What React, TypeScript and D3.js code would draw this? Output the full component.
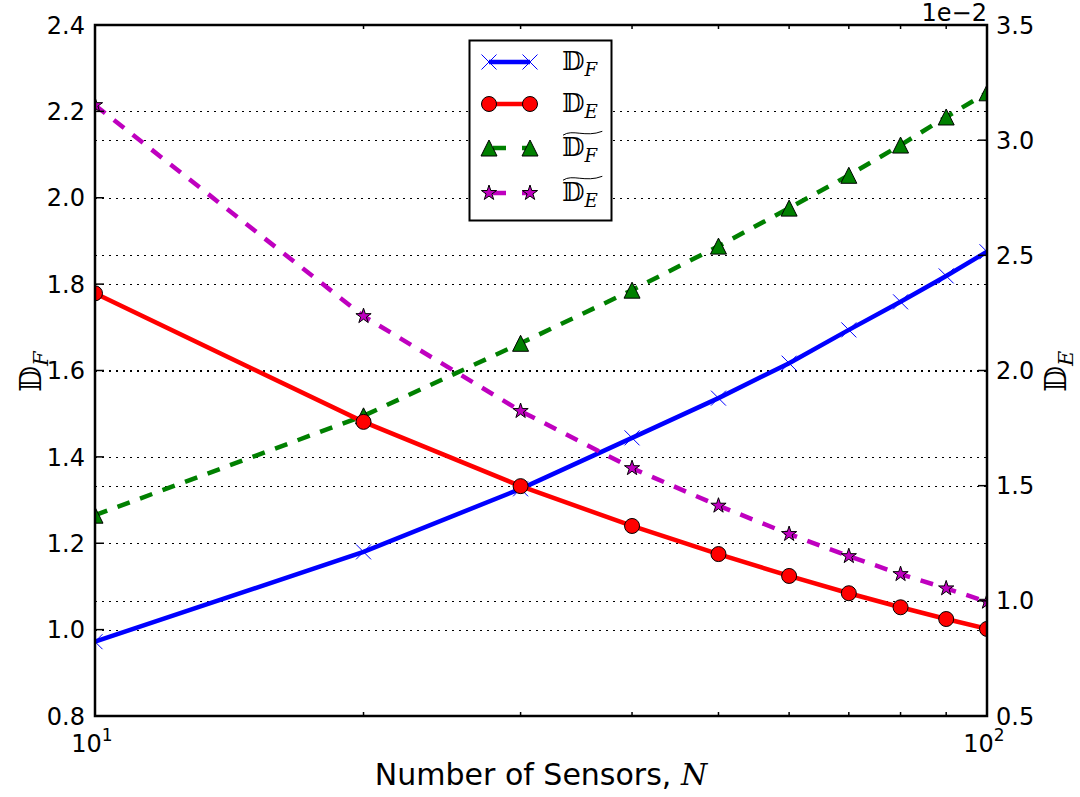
import * as d3 from "d3"
import React from "react"

const sensors = [10, 20, 30, 40, 50, 60, 70, 80, 90, 100]
const dF = [0.972, 1.18, 1.326, 1.444, 1.536, 1.617, 1.694, 1.759, 1.819, 1.875]
const dFTilde = [1.265, 1.495, 1.663, 1.786, 1.888, 1.976, 2.052, 2.122, 2.187, 2.243]
const dE = [2.335, 1.777, 1.498, 1.325, 1.203, 1.108, 1.033, 0.972, 0.921, 0.878]
const dETilde = [3.152, 2.236, 1.824, 1.576, 1.413, 1.29, 1.194, 1.116, 1.054, 0.996]

const leftTicks = [0.8, 1.0, 1.2, 1.4, 1.6, 1.8, 2.0, 2.2, 2.4]
const rightTicks = [0.5, 1.0, 1.5, 2.0, 2.5, 3.0, 3.5]
const minorX = [20, 30, 40, 50, 60, 70, 80, 90]

const W = 1080
const H = 797
const X0 = 95
const X1 = 987
const Y0 = 716
const Y1 = 25
const FONT = "DejaVu Sans"

const x = d3.scaleLog().domain([10, 100]).range([X0, X1])
const yL = d3.scaleLinear().domain([0.8, 2.4]).range([Y0, Y1])
const yR = d3.scaleLinear().domain([0.5, 3.5]).range([Y0, Y1])

const starPath = (r: number) => {
  const pts: string[] = []
  for (let i = 0; i < 10; i++) {
    const rr = i % 2 === 0 ? r : r * 0.382
    const a = (Math.PI / 5) * i - Math.PI / 2
    pts.push(`${rr * Math.cos(a)},${rr * Math.sin(a)}`)
  }
  return "M" + pts.join("L") + "Z"
}

const Marker = ({ kind, cx, cy }: { kind: string; cx: number; cy: number }) => {
  const t = `translate(${cx},${cy})`
  if (kind === "x")
    return (
      <g transform={t} stroke="#0000ff" strokeWidth={1}>
        <line x1={-7.5} y1={-7.5} x2={7.5} y2={7.5} />
        <line x1={-7.5} y1={7.5} x2={7.5} y2={-7.5} />
      </g>
    )
  if (kind === "o") return <circle transform={t} r={7.5} fill="#ff0000" stroke="#000" strokeWidth={1} />
  if (kind === "^")
    return <path transform={t} d="M0,-8L-8,8L8,8Z" fill="#008000" stroke="#000" strokeWidth={1} />
  return <path transform={t} d={starPath(8)} fill="#bf00bf" stroke="#000" strokeWidth={1} />
}

const series = [
  { name: "F", tilde: false, values: dF, y: yL, color: "#0000ff", dash: null, marker: "x" },
  { name: "E", tilde: false, values: dE, y: yR, color: "#ff0000", dash: null, marker: "o" },
  { name: "F", tilde: true, values: dFTilde, y: yL, color: "#008000", dash: "13,11", marker: "^" },
  { name: "E", tilde: true, values: dETilde, y: yR, color: "#bf00bf", dash: "13,11", marker: "*" },
]
// twin axis lines drawn above the main axis lines
const drawOrder = [0, 2, 1, 3]

const MathD = ({ x, y, sub, tilde, size, rotate }: any) => {
  return (
    <g transform={`translate(${x},${y})${rotate ? ` rotate(${rotate})` : ""}`}>
      <text fontFamily="DejaVu Serif, DejaVu Sans" fontSize={size} fill="#000">
        {"\u{1D53B}"}
        <tspan fontFamily="DejaVu Serif" fontStyle="italic" fontSize={size * 0.7} dy={size * 0.22}>
          {sub}
        </tspan>
      </text>
      {tilde && (
        <path
          d={`M1,${-size * 0.8} C${size * 0.4},${-size * 1.05} ${size * 0.9},${-size * 0.7} ${size * 1.55},${-size * 0.95}`}
          fill="none"
          stroke="#000"
          strokeWidth={1}
        />
      )}
    </g>
  )
}

export default function App() {
  const line = (s: any) =>
    d3
      .line<number>()
      .x((_, i) => x(sensors[i]))
      .y((v) => s.y(v))(s.values) as string

  return (
    <svg width={W} height={H} style={{ position: "absolute", left: 0, top: 0, background: "#fff" }}>
      <defs>
        <clipPath id="plot">
          <rect x={X0} y={Y1} width={X1 - X0} height={Y0 - Y1} />
        </clipPath>
      </defs>
      <rect width={W} height={H} fill="#fff" />

      {/* grid lines from both axes */}
      <g stroke="#000" strokeWidth={1} strokeDasharray="2,5">
        {leftTicks.slice(1, -1).map((t) => (
          <line key={"gl" + t} x1={X0} x2={X1} y1={Math.round(yL(t)) + 0.5} y2={Math.round(yL(t)) + 0.5} />
        ))}
        {rightTicks.slice(1, -1).map((t) => (
          <line key={"gr" + t} x1={X0} x2={X1} y1={Math.round(yR(t)) + 0.5} y2={Math.round(yR(t)) + 0.5} />
        ))}
      </g>

      <g clipPath="url(#plot)">
        {drawOrder.map((k) => {
          const s = series[k]
          return (
            <g key={k}>
              <path d={line(s)} fill="none" stroke={s.color} strokeWidth={4.5} strokeDasharray={s.dash || undefined} />
              {s.values.map((v, i) => (
                <Marker key={i} kind={s.marker} cx={x(sensors[i])} cy={s.y(v)} />
              ))}
            </g>
          )
        })}
      </g>

      {/* ticks */}
      <g stroke="#000" strokeWidth={1.5}>
        {leftTicks.map((t) => (
          <line key={"tl" + t} x1={X0} x2={X0 + 9} y1={yL(t)} y2={yL(t)} />
        ))}
        {rightTicks.map((t) => (
          <line key={"tr" + t} x1={X1 - 9} x2={X1} y1={yR(t)} y2={yR(t)} />
        ))}
        {minorX.map((t) => (
          <g key={"tx" + t}>
            <line x1={x(t)} x2={x(t)} y1={Y0} y2={Y0 - 4} />
            <line x1={x(t)} x2={x(t)} y1={Y1} y2={Y1 + 4} />
          </g>
        ))}
      </g>

      <rect x={X0} y={Y1} width={X1 - X0} height={Y0 - Y1} fill="none" stroke="#000" strokeWidth={2.5} />

      {/* tick labels */}
      <g fontFamily={FONT} fontSize={24} fill="#000">
        {leftTicks.map((t) => (
          <text key={"ll" + t} x={X0 - 10} y={yL(t)} dy="0.36em" textAnchor="end">
            {t.toFixed(1)}
          </text>
        ))}
        {rightTicks.map((t) => (
          <text key={"rl" + t} x={X1 + 9} y={yR(t)} dy="0.36em" textAnchor="start">
            {t.toFixed(1)}
          </text>
        ))}
        {[10, 100].map((t, i) => (
          <text key={"xl" + t} x={x(t) - 3} y={752} textAnchor="middle">
            10
            <tspan fontSize={17} dy={-11}>
              {i + 1}
            </tspan>
          </text>
        ))}
        <text x={X1} y={21} textAnchor="end">
          1e−2
        </text>
      </g>

      {/* axis labels */}
      <text x={(X0 + X1) / 2} y={785} fontFamily={FONT} fontSize={30} textAnchor="middle" fill="#000">
        Number of Sensors,{" "}
        <tspan fontFamily="DejaVu Serif" fontStyle="italic">
          N
        </tspan>
      </text>
      <MathD x={41} y={392} sub="F" size={30} rotate={-90} />
      <MathD x={1066} y={392} sub="E" size={30} rotate={-90} />

      {/* legend */}
      <rect x={469.5} y={40.5} width={142} height={180} fill="#fff" stroke="#000" strokeWidth={2} />
      {series.map((s, i) => {
        const ly = [62, 104, 148, 193][i]
        return (
          <g key={"lg" + i}>
            <line x1={489} x2={530} y1={ly} y2={ly} stroke={s.color} strokeWidth={4.5} strokeDasharray={s.dash ? "13,16" : undefined} strokeDashoffset={s.dash ? -4 : 0} />
            <Marker kind={s.marker} cx={489} cy={ly} />
            <Marker kind={s.marker} cx={530} cy={ly} />
            <MathD x={562} y={ly + 8} sub={s.name} tilde={s.tilde} size={26} />
          </g>
        )
      })}
    </svg>
  )
}
